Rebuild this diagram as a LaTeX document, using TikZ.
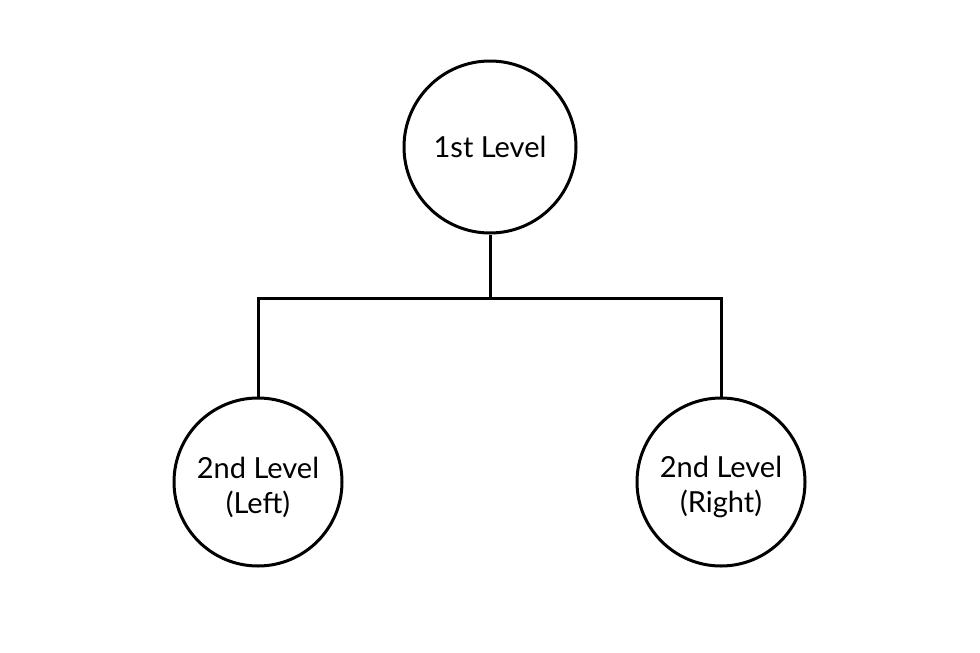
\documentclass[tikz,border=0pt]{standalone}
\usepackage{fontspec}
\setmainfont{Lato}
\begin{document}
\begin{tikzpicture}[x=1pt,y=-1pt,
  lvl/.style={circle,draw=black,line width=3pt,minimum size=172pt,inner sep=0pt,align=center,font=\fontsize{29}{35}\selectfont},
  lbl/.style={inner sep=0pt,align=center,font=\fontsize{29}{35}\selectfont},
  conn/.style={line width=3pt}]
\useasboundingbox (0,0) rectangle (980,653);
\node[lvl] (top) at (490,147) {1st Level};
\node[lvl,minimum size=168pt] (left) at (258,482) {};
\node[lvl,minimum size=168pt] (right) at (721,482) {};
\node[lbl] (leftlbl) at ([yshift=-5pt]left.center) {2nd Level\\(Left)};
\node[lbl] (rightlbl) at ([yshift=-5pt]right.center) {2nd Level\\(Right)};
\coordinate (hub) at (490,298);
\draw[conn] (top.south) -- (hub);
\draw[conn] (left.north) -- (left.north |- hub) -- (right.north |- hub) -- (right.north);
\end{tikzpicture}
\end{document}
